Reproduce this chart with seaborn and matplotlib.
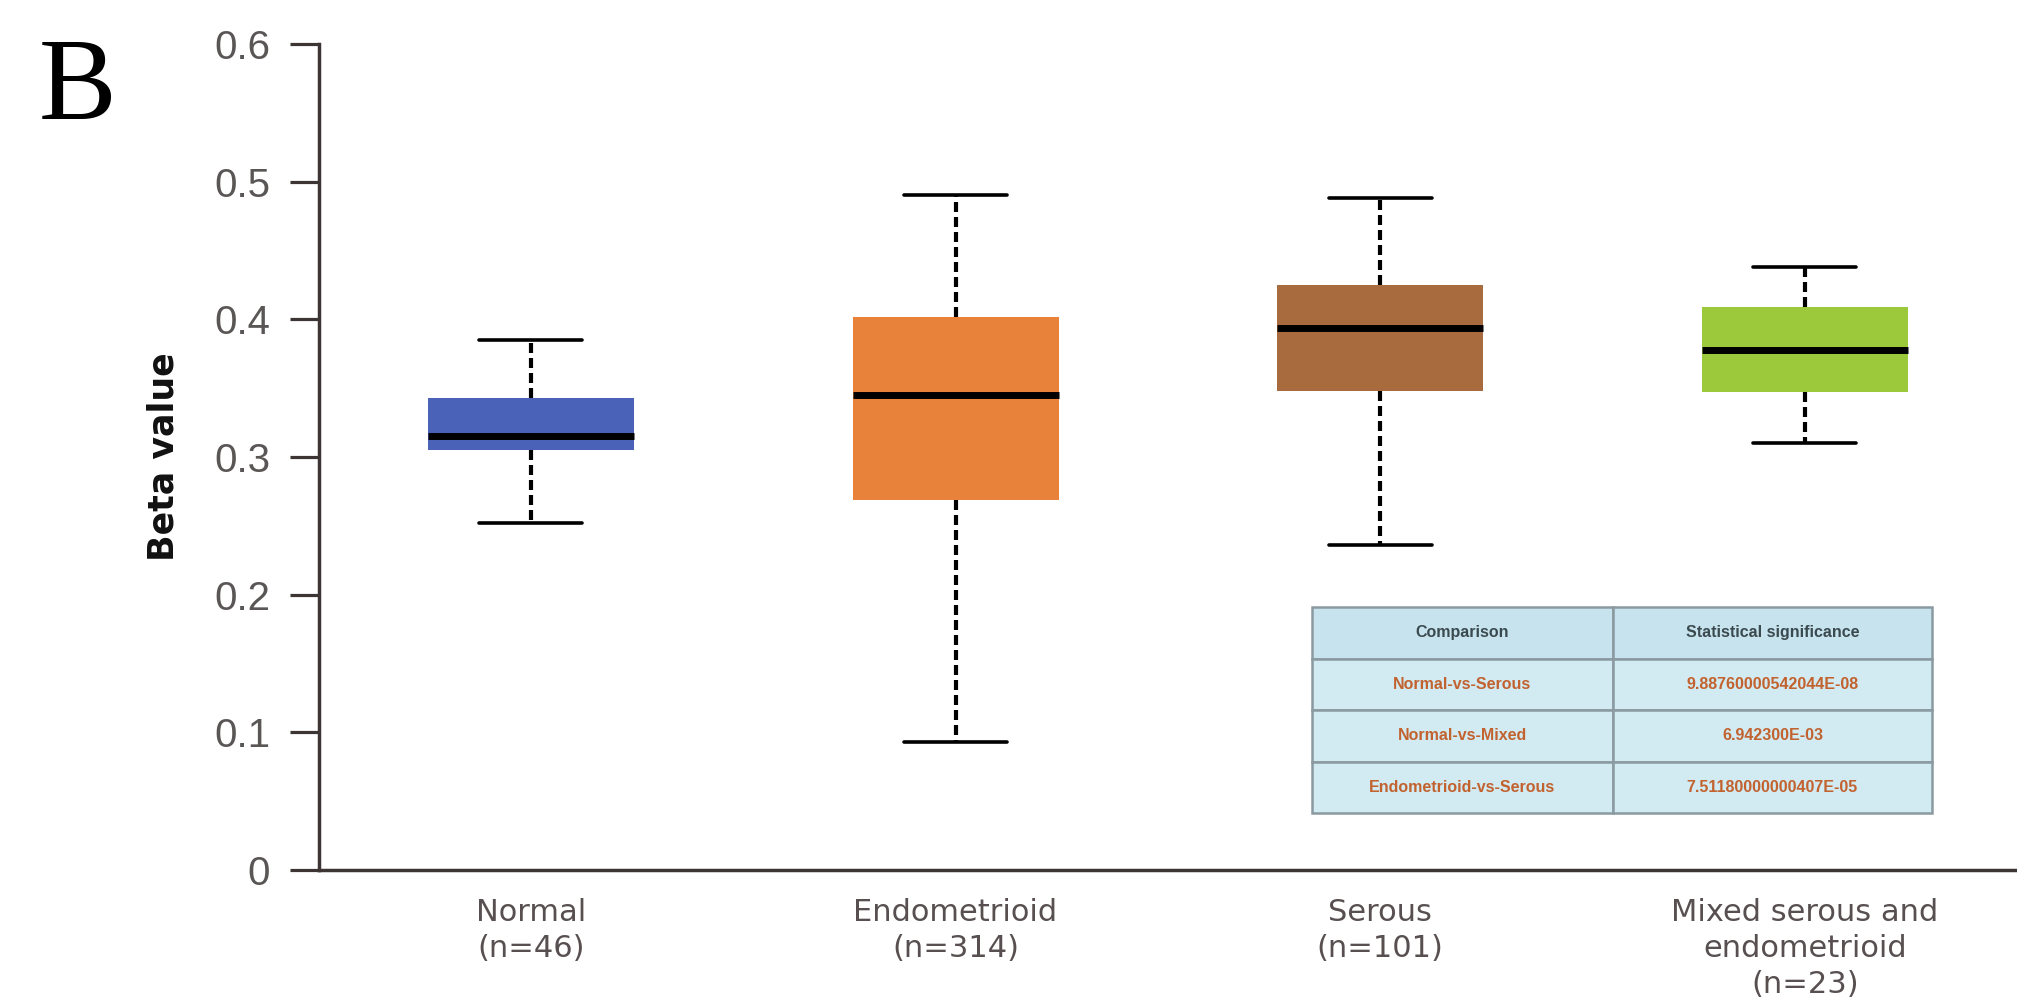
import numpy as np
import pandas as pd
import matplotlib
matplotlib.use("Agg")
import matplotlib.pyplot as plt
import seaborn as sns

# Box summaries per group: lower whisker, Q1, median, Q3, upper whisker
groups = ["Normal", "Endometrioid", "Serous", "Mixed serous and endometrioid"]
tick_labels = ["Normal\n(n=46)", "Endometrioid\n(n=314)", "Serous\n(n=101)",
               "Mixed serous and\nendometrioid\n(n=23)"]
whisker_low = [0.252, 0.093, 0.236, 0.310]
q1 = [0.305, 0.269, 0.348, 0.347]
median = [0.315, 0.345, 0.394, 0.378]
q3 = [0.343, 0.402, 0.425, 0.409]
whisker_high = [0.385, 0.490, 0.488, 0.438]
colors = ["#4A62B8", "#E8823A", "#A86B3E", "#9CC93C"]

table_header = ["Comparison", "Statistical significance"]
table_comparisons = ["Normal-vs-Serous", "Normal-vs-Mixed", "Endometrioid-vs-Serous"]
table_pvalues = ["9.88760000542044E-08", "6.942300E-03", "7.51180000000407E-05"]

# Five points per group reproduce the summary exactly with whis=(0, 100)
rows = []
for g, lo, a, m, b, hi in zip(groups, whisker_low, q1, median, q3, whisker_high):
    for v in (lo, a, m, b, hi):
        rows.append({"group": g, "beta": v})
df = pd.DataFrame(rows)

sns.set_theme(style="ticks")
fig = plt.figure(figsize=(20.17, 9.99), dpi=100)
ax = fig.add_axes([0.158, 0.129, 0.842, 0.827])

sns.boxplot(data=df, x="group", y="beta", hue="group", palette=colors,
            order=groups, whis=(0, 100), width=0.485, legend=False, ax=ax,
            saturation=1, linewidth=0,
            boxprops=dict(linewidth=0, edgecolor="none"),
            medianprops=dict(color="black", linewidth=5),
            whiskerprops=dict(color="black", linewidth=3, linestyle=(0, (2.4, 1.2))),
            capprops=dict(color="black", linewidth=2.6),
            showfliers=False)

ax.set_xlim(-0.5, 3.5)
ax.set_ylim(0, 0.6)
ax.set_yticks([0, 0.1, 0.2, 0.3, 0.4, 0.5, 0.6])
ax.set_yticklabels(["0", "0.1", "0.2", "0.3", "0.4", "0.5", "0.6"],
                   fontsize=29, color="#5a5656", family="Liberation Sans")
ax.set_xticks(range(4))
ax.set_xticklabels(tick_labels, fontsize=22, color="#585050",
                   family="DejaVu Sans", linespacing=1.3)
ax.tick_params(axis="y", length=21, width=2.3, color="#3d3434", pad=14)
ax.tick_params(axis="x", length=0, pad=20)
for side in ("top", "right"):
    ax.spines[side].set_visible(False)
for side in ("left", "bottom"):
    ax.spines[side].set_linewidth(2.5)
    ax.spines[side].set_color("#3d3434")
ax.set_xlabel("")
ax.set_ylabel("Beta value", fontsize=25, fontweight="bold", color="#111111",
              labelpad=24, family="DejaVu Sans")

# Panel letter
fig.text(0.019, 0.962, "B", fontsize=84, family="Liberation Serif",
         va="top", ha="left", color="black")

# Significance table
cell_text = [[c, p] for c, p in zip(table_comparisons, table_pvalues)]
tbl = ax.table(cellText=cell_text, colLabels=table_header,
               bbox=[(1312 - 319) / 1698, (870 - 813) / 826,
                     (1932 - 1312) / 1698, (813 - 607) / 826],
               colWidths=[(1613 - 1312) / 620, (1932 - 1613) / 620],
               cellLoc="center")
tbl.auto_set_font_size(False)
for (r, c), cell in tbl.get_celld().items():
    cell.set_facecolor("#d2eaf2" if r > 0 else "#c7e3ee")
    cell.set_edgecolor("#8a9aa0")
    cell.set_linewidth(1.8)
    txt = cell.get_text()
    txt.set_fontsize(11.5)
    txt.set_fontweight("bold")
    txt.set_family("Liberation Sans")
    txt.set_color("#3b4a4f" if r == 0 else "#c2622f")

fig.savefig("out.png", dpi=100)
